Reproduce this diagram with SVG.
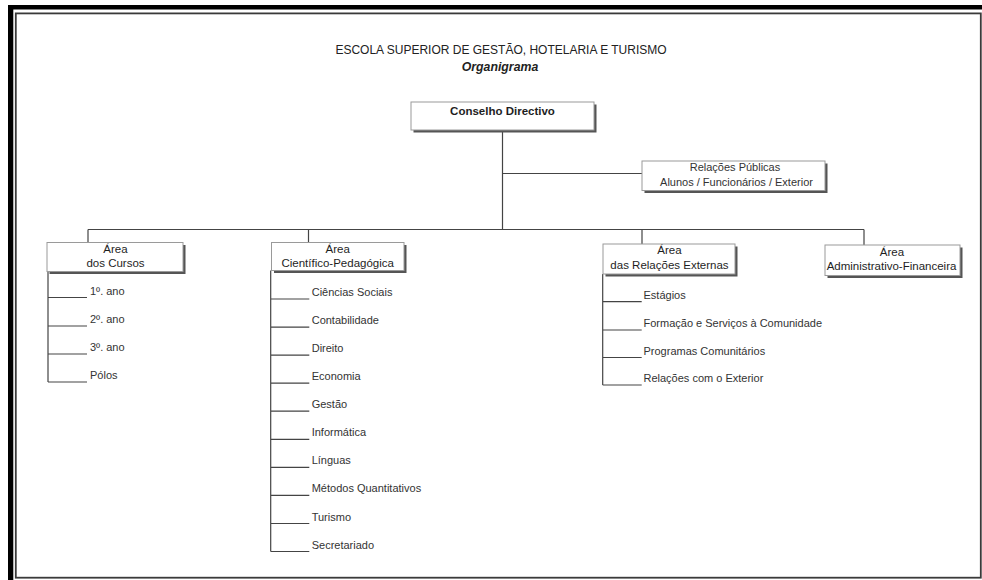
<svg xmlns="http://www.w3.org/2000/svg" width="982" height="580" viewBox="0 0 982 580">
<defs>
<style>
text{font-family:"Liberation Sans",Arial,sans-serif;}
.title{font-size:12px;fill:#222;}
.sub{font-size:12.3px;font-weight:bold;font-style:italic;fill:#222;}
.box{fill:#fff;stroke:#9a9a9a;stroke-width:1;}
.shadow{fill:#555;}
.lbl{font-size:11.5px;fill:#1e1e1e;text-anchor:middle;}
.lblb{font-size:11.5px;font-weight:bold;fill:#1e1e1e;text-anchor:middle;}
.lblr{font-size:11px;fill:#333;text-anchor:middle;}
.item{font-size:11px;fill:#333;}
.ln{stroke:#444;stroke-width:1.2;fill:none;}
</style>
</defs>
<rect x="0" y="0" width="982" height="580" fill="#fff"/>
<!-- frame -->
<g id="frame">
<rect x="8" y="5" width="974" height="4.5" fill="#000"/>
<rect x="8" y="5" width="5.3" height="575" fill="#000"/>
<rect x="15.8" y="13.4" width="965" height="564.3" fill="none" stroke="#3a3a3a" stroke-width="1.8"/>
</g>
<g id="heading">
<text class="title" x="501" y="54.3" text-anchor="middle">ESCOLA SUPERIOR DE GESTÃO, HOTELARIA E TURISMO</text>
<text class="sub" x="500" y="71" text-anchor="middle">Organigrama</text>
</g>
<g id="connectors">
<path class="ln" d="M502.5 130 V229.5 M502.5 173.5 H642 M88 229.5 H864 M88 229.5 V242.5 M308.5 229.5 V243 M642 229.5 V244 M864 229.5 V245"/>
<!-- Cursos list -->
<path class="ln" d="M48 271.5 V382 M48 297.5 H87 M48 326 H87 M48 354 H87 M48 382 H87"/>
<!-- Cientifico list -->
<path class="ln" d="M270.7 270.5 V551.5 M270.7 299 H309.3 M270.7 327.1 H309.3 M270.7 355.1 H309.3 M270.7 383.2 H309.3 M270.7 411.2 H309.3 M270.7 439.3 H309.3 M270.7 467.4 H309.3 M270.7 495.4 H309.3 M270.7 523.5 H309.3 M270.7 551.5 H309.3"/>
<!-- Relacoes Externas list -->
<path class="ln" d="M602.7 274 V385 M602.7 301.7 H641.7 M602.7 330 H641.7 M602.7 357.5 H641.7 M602.7 385 H641.7"/>
</g>
<g id="conselho">
<rect class="shadow" x="413.5" y="104.5" width="183" height="28"/>
<rect class="box" x="411" y="102" width="183" height="28"/>
<text class="lblb" x="502.5" y="114.5">Conselho Directivo</text>
</g>
<g id="relacoes-publicas">
<rect class="shadow" x="644.5" y="163.5" width="183" height="29.5"/>
<rect class="box" x="642" y="161" width="183" height="29.5"/>
<text class="lblr" x="735" y="171">Relações Públicas</text>
<text class="lblr" x="736.5" y="186">Alunos / Funcionários / Exterior</text>
</g>
<g id="area-cursos">
<rect class="shadow" x="49.5" y="245" width="136" height="29"/>
<rect class="box" x="47" y="242.5" width="136" height="29"/>
<text class="lbl" x="115.5" y="252.5">Área</text>
<text class="lbl" x="115.5" y="266.5">dos Cursos</text>
</g>
<g id="cursos-items">
<text class="item" x="90" y="294.5">1º. ano</text>
<text class="item" x="90" y="323">2º. ano</text>
<text class="item" x="90" y="351">3º. ano</text>
<text class="item" x="90" y="379">Pólos</text>
</g>
<g id="area-cientifico">
<rect class="shadow" x="274" y="245" width="132.5" height="28"/>
<rect class="box" x="271.5" y="242.5" width="132.5" height="28"/>
<text class="lbl" x="337.7" y="252.5">Área</text>
<text class="lbl" x="337.7" y="266.5">Científico-Pedagógica</text>
</g>
<g id="cientifico-items">
<text class="item" x="311.7" y="296">Ciências Sociais</text>
<text class="item" x="311.7" y="324.1">Contabilidade</text>
<text class="item" x="311.7" y="352.1">Direito</text>
<text class="item" x="311.7" y="380.2">Economia</text>
<text class="item" x="311.7" y="408.2">Gestão</text>
<text class="item" x="311.7" y="436.3">Informática</text>
<text class="item" x="311.7" y="464.4">Línguas</text>
<text class="item" x="311.7" y="492.4">Métodos Quantitativos</text>
<text class="item" x="311.7" y="520.5">Turismo</text>
<text class="item" x="311.7" y="548.5">Secretariado</text>
</g>
<g id="area-relacoes-externas">
<rect class="shadow" x="605.5" y="246.5" width="132" height="30"/>
<rect class="box" x="603" y="244" width="132" height="30"/>
<text class="lbl" x="669.5" y="254">Área</text>
<text class="lbl" x="669.5" y="268.5">das Relações Externas</text>
</g>
<g id="relacoes-items">
<text class="item" x="643.5" y="298.7">Estágios</text>
<text class="item" x="643.5" y="327">Formação e Serviços à Comunidade</text>
<text class="item" x="643.5" y="354.5">Programas Comunitários</text>
<text class="item" x="643.5" y="382">Relações com o Exterior</text>
</g>
<g id="area-administrativo">
<rect class="shadow" x="827.5" y="247.5" width="135" height="30.5"/>
<rect class="box" x="825" y="245" width="135" height="30.5"/>
<text class="lbl" x="892" y="255.5">Área</text>
<text class="lbl" x="891.5" y="270">Administrativo-Financeira</text>
</g>
</svg>
